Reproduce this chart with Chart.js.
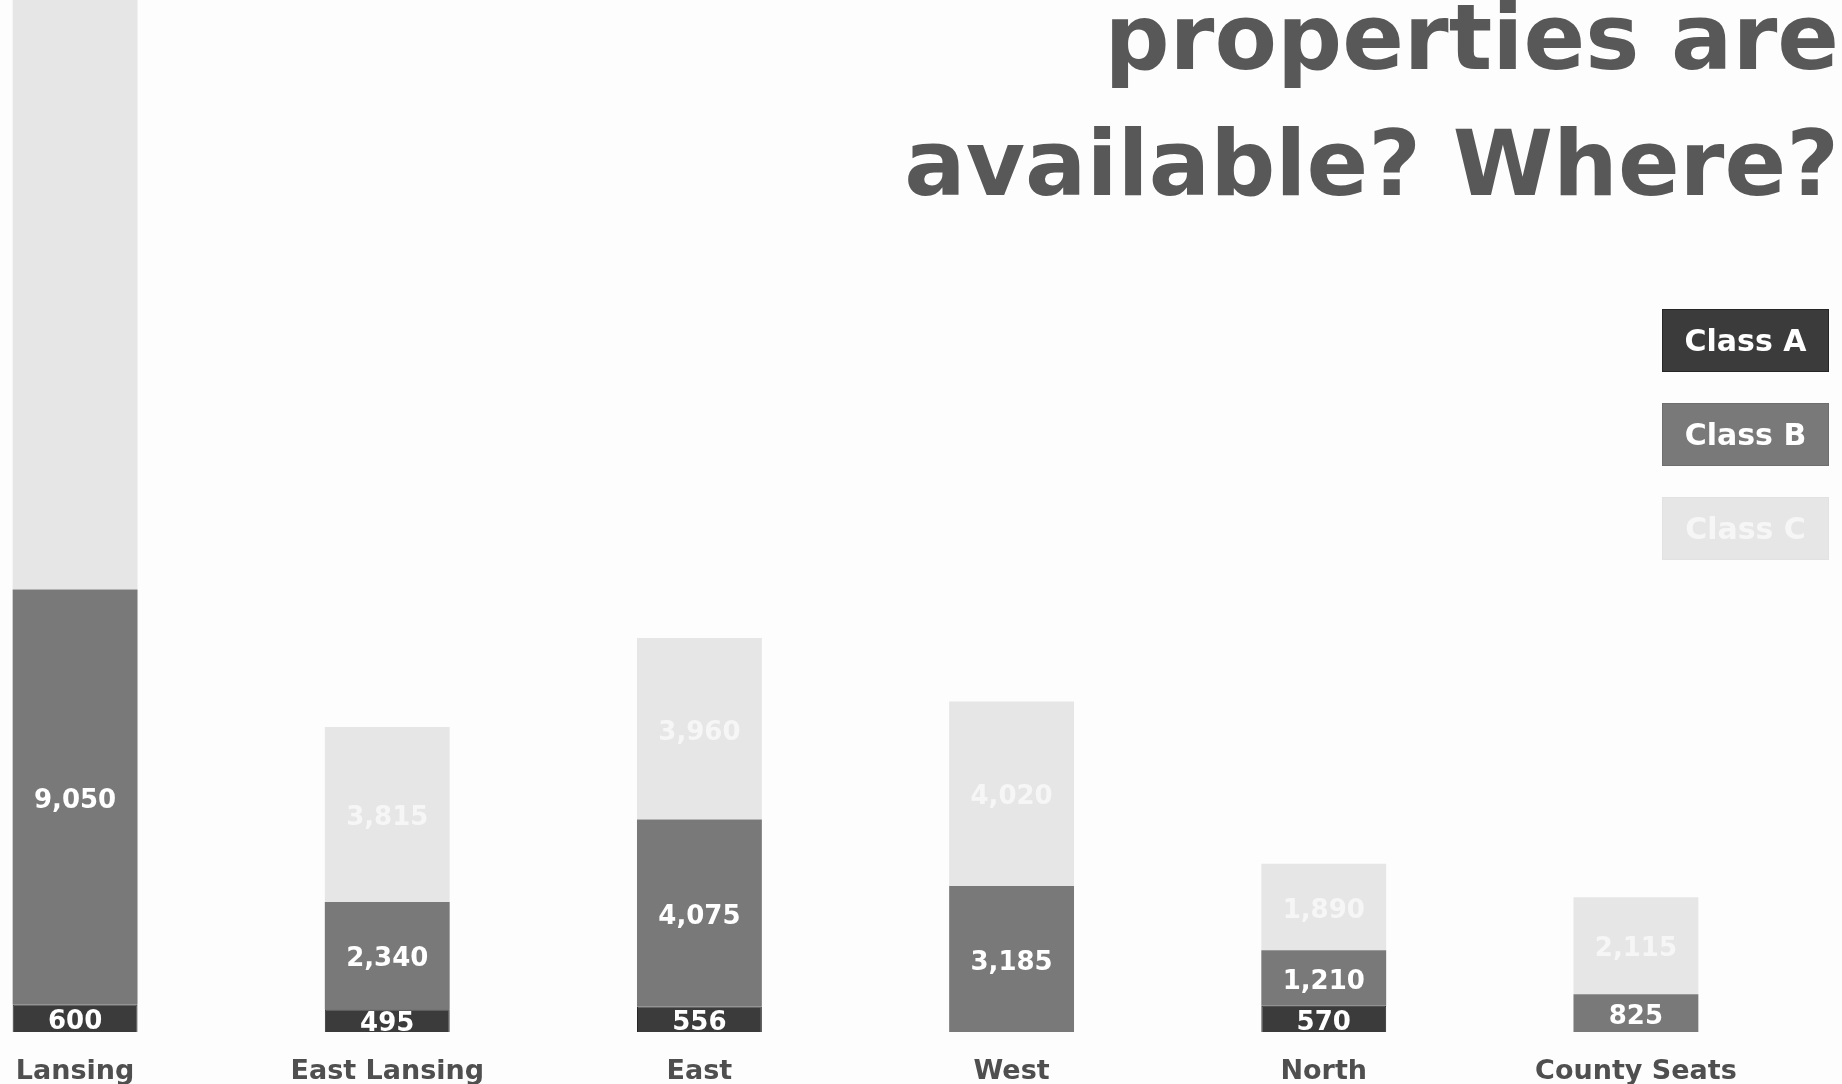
<!DOCTYPE html>
<html>
<head>
<meta charset="utf-8">
<script src="https://cdn.jsdelivr.net/npm/chart.js@4/dist/chart.umd.min.js"></script>
<style>
  html, body { margin: 0; padding: 0; width: 1842px; height: 1084px; overflow: hidden; background: #fdfdfd; }
  #wrap { position: absolute; left: -81px; top: 0; width: 1873px; height: 1130px; }
  #title {
    position: absolute; right: 3px; top: -25px;
    font-family: "DejaVu Sans", sans-serif; font-weight: bold; font-size: 91px;
    line-height: 126px; color: #585858; text-align: right; white-space: nowrap;
  }
  #legend { position: absolute; left: 1662px; top: 309px; }
  .key {
    width: 165px; height: 61px; margin-bottom: 31px; box-sizing: content-box;
    display: flex; align-items: center; justify-content: center;
    font-family: "DejaVu Sans", sans-serif; font-weight: bold; font-size: 30px; color: #ffffff;
  }
</style>
</head>
<body>
<div id="wrap"><canvas id="c" width="1873" height="1130"></canvas></div>
<div id="title">properties are<br>available? Where?</div>
<div id="legend"></div>
<script>
// Regions and vacant property counts by class
const regions = ["Lansing", "East Lansing", "East", "West", "North", "County Seats"];
const classA = [600, 495, 556, 0, 570, 0];
const classB = [9050, 2340, 4075, 3185, 1210, 825];
const classC = [14000, 3815, 3960, 4020, 1890, 2115];
const seriesNames = ["Class A", "Class B", "Class C"];

const fills = ["#3b3b3b", "#797979", "#e6e6e6"];
const edges = ["#262626", "#6e6e6e", "#e2e2e2"];
const labelInk = ["#ffffff", "#ffffff", "#f6f6f6"];

const fmt = v => v.toLocaleString("en-US");

// Writes each segment's count in the middle of the segment
const segmentLabels = {
  id: "segmentLabels",
  afterDatasetsDraw(chart) {
    const ctx = chart.ctx;
    const area = chart.chartArea;
    ctx.save();
    ctx.font = 'bold 26px "DejaVu Sans", sans-serif';
    ctx.textAlign = "center";
    ctx.textBaseline = "middle";
    chart.data.datasets.forEach((ds, di) => {
      const meta = chart.getDatasetMeta(di);
      meta.data.forEach((bar, i) => {
        const v = ds.data[i];
        if (!v) return;
        const top = Math.min(bar.y, bar.base);
        if (top < area.top) return; // segment runs off the top: no room for its label
        ctx.fillStyle = labelInk[di];
        ctx.fillText(fmt(v), bar.x, (bar.y + bar.base) / 2 + 4);
      });
    });
    ctx.restore();
  }
};

const chart = new Chart(document.getElementById("c"), {
  type: "bar",
  data: {
    labels: regions,
    datasets: [classA, classB, classC].map((vals, k) => ({
      label: seriesNames[k],
      data: vals,
      backgroundColor: fills[k],
      borderColor: edges[k],
      borderWidth: k === 0 ? 1 : 0,
      barPercentage: 0.4,
      categoryPercentage: 1.0
    }))
  },
  options: {
    responsive: false,
    animation: false,
    layout: { padding: 0 },
    plugins: { legend: { display: false }, tooltip: { enabled: false }, title: { display: false } },
    scales: {
      x: {
        stacked: true,
        grid: { display: false, drawTicks: false },
        border: { display: false },
        ticks: {
          color: "#4f4f4f",
          padding: 24,
          font: { family: '"DejaVu Sans", sans-serif', weight: "bold", size: 27 }
        },
        afterFit(scale) { scale.height = 98; }
      },
      y: {
        stacked: true,
        display: false,
        min: 0,
        max: 22500
      }
    }
  },
  plugins: [segmentLabels]
});

// Legend keys built from the datasets
const legend = document.getElementById("legend");
chart.data.datasets.forEach((ds, k) => {
  const d = document.createElement("div");
  d.className = "key";
  d.style.background = fills[k];
  d.style.border = "1px solid " + edges[k];
  d.style.color = labelInk[k];
  d.textContent = ds.label;
  legend.appendChild(d);
});
</script>
</body>
</html>
